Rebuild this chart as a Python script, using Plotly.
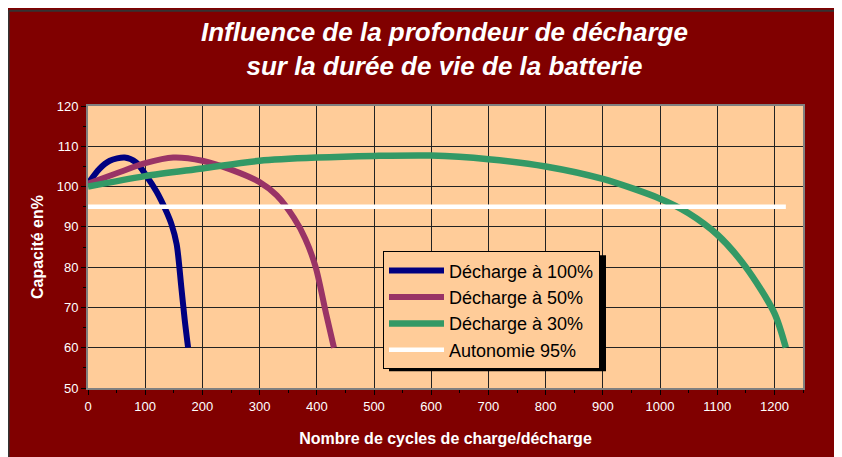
import plotly.graph_objects as go

# ---- data ----
cycles_100 = [0, 20, 38, 64, 84, 102, 120, 137, 146, 155, 163, 169, 175]
cap_100 = [100.7, 104.4, 106.4, 107.2, 106.0, 102.7, 98.7, 93.8, 90.6, 85.7, 75.2, 67.0, 60.0]

cycles_50 = [0, 50, 100, 149, 200, 250, 300, 330, 360, 380, 398, 416, 430]
cap_50 = [100.7, 103.3, 105.8, 107.2, 106.4, 104.2, 101.1, 97.8, 92.2, 87.0, 80.0, 68.6, 60.0]

cycles_30 = [0, 100, 200, 300, 400, 500, 600, 700, 800, 900, 1000, 1050, 1100, 1150, 1200, 1220]
cap_30 = [100.0, 102.6, 104.5, 106.4, 107.2, 107.6, 107.7, 106.8, 105.0, 101.9, 97.0, 93.4, 88.1, 80.0, 68.6, 60.0]

cycles_95 = [0, 1220]
cap_95 = [95, 95]

series_names = ["Décharge à 100%", "Décharge à 50%", "Décharge à 30%", "Autonomie 95%"]
title_lines = ["Influence de la profondeur de décharge", "sur la durée de vie de la batterie"]
x_title = "Nombre de cycles de charge/décharge"
y_title = "Capacité en%"

FONT = "Arial, 'Liberation Sans', sans-serif"
RED = "#800000"

fig = go.Figure()
fig.add_trace(go.Scatter(x=cycles_100, y=cap_100, mode="lines", name=series_names[0],
                         line=dict(color="#000080", width=6, shape="spline", smoothing=0.8)))
fig.add_trace(go.Scatter(x=cycles_50, y=cap_50, mode="lines", name=series_names[1],
                         line=dict(color="#993366", width=6, shape="spline", smoothing=0.8)))
fig.add_trace(go.Scatter(x=cycles_30, y=cap_30, mode="lines", name=series_names[2],
                         line=dict(color="#339966", width=6.5, shape="spline", smoothing=0.8)))
fig.add_trace(go.Scatter(x=cycles_95, y=cap_95, mode="lines", name=series_names[3],
                         line=dict(color="#FFFFFF", width=4.5)))

# page pixel -> paper coordinate helpers (plot area: x 88..803, y 106..393 in page pixels)
def px(p):
    return (p - 88) / 715.0

def py(p):
    return (393 - p) / 287.0

shapes = [
    # dark frame lines at the top and left of the chart
    dict(type="line", xref="paper", yref="paper", x0=px(8.5), x1=px(900), y0=py(9), y1=py(9),
         line=dict(color="#333333", width=2), layer="below"),
    dict(type="line", xref="paper", yref="paper", x0=px(8.5), x1=px(8.5), y0=py(500), y1=py(9),
         line=dict(color="#333333", width=2), layer="below"),
    # legend drop shadow
    dict(type="rect", xref="paper", yref="paper", x0=px(389), x1=px(606), y0=py(376), y1=py(258),
         fillcolor="black", line=dict(width=0), layer="above"),
]

fig.update_layout(
    width=834, height=449,
    margin=dict(l=80, r=39, t=98, b=64),
    paper_bgcolor=RED,
    plot_bgcolor="#FFCC99",
    showlegend=True,
    annotations=[dict(text="<b><i>" + title_lines[0] + "<br>" + title_lines[1] + "</i></b>",
                      xref="paper", yref="paper", x=px(444), y=py(13),
                      xanchor="center", yanchor="top", showarrow=False,
                      font=dict(family=FONT, size=26, color="white"))],
    legend=dict(x=px(383), y=py(254), xanchor="left", yanchor="top",
                bgcolor="#FFCC99", bordercolor="black", borderwidth=1,
                font=dict(family=FONT, size=18, color="black"),
                itemwidth=55, tracegroupgap=0),
    shapes=shapes,
    xaxis=dict(range=[0, 1250], dtick=100, tick0=0,
               showgrid=True, gridcolor="#222222", gridwidth=1,
               showline=True, linecolor="#808080", linewidth=2, mirror=True,
               ticks="outside", ticklen=5, tickcolor="black",
               minor=dict(dtick=50, ticks="outside", ticklen=3, tickcolor="black", showgrid=False),
               tickfont=dict(family=FONT, size=13, color="white"),
               title=dict(text="<b>" + x_title + "</b>", standoff=20,
                          font=dict(family=FONT, size=16, color="white")),
               zeroline=False, fixedrange=True),
    yaxis=dict(range=[50, 120], dtick=10, tick0=50,
               showgrid=True, gridcolor="#222222", gridwidth=1,
               showline=True, linecolor="#808080", linewidth=2, mirror=True,
               ticks="outside", ticklen=5, tickcolor="black",
               minor=dict(dtick=5, ticks="outside", ticklen=3, tickcolor="black", showgrid=False),
               tickfont=dict(family=FONT, size=13, color="white"),
               title=dict(text="<b>" + y_title + "</b>", standoff=9,
                          font=dict(family=FONT, size=16, color="white")),
               zeroline=False, fixedrange=True),
)

fig.write_html("out.html",
               post_script="document.documentElement.style.overflow='hidden';"
                           "document.body.style.overflow='hidden';")
